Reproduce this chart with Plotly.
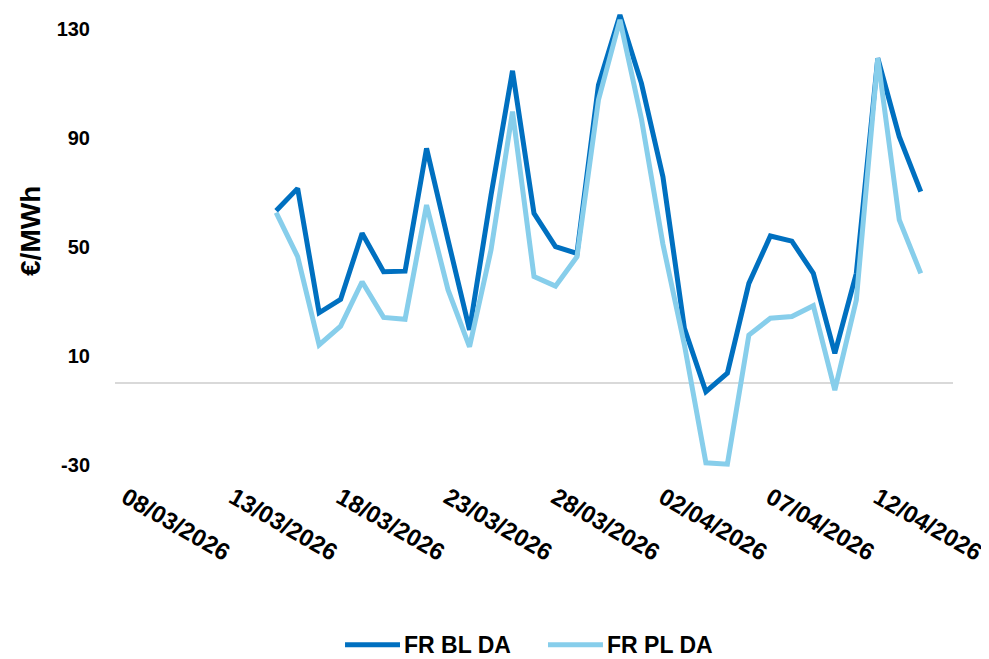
import pandas as pd
import plotly.graph_objects as go

dates = pd.date_range("2026-03-15", "2026-04-14", freq="D")
fr_bl_da = [63.3, 71.5, 25.8, 30.7, 55.0, 40.9, 41.1, 86.2, 52.5, 19.5,
            69.0, 114.7, 62.3, 50.1, 47.6, 109.5, 135.2, 110.1, 75.8, 20.1,
            -3.2, 3.6, 36.6, 54.0, 52.1, 40.3, 10.9, 40.3, 119.3, 90.5, 70.3]
fr_pl_da = [62.6, 46.4, 14.0, 20.9, 37.2, 24.1, 23.4, 65.4, 34.2, 13.3,
            48.9, 99.7, 39.1, 35.6, 46.4, 104.0, 133.4, 97.0, 51.0, 14.0,
            -29.3, -29.8, 17.6, 23.8, 24.4, 28.4, -2.6, 30.5, 119.3, 59.9, 40.3]
x_ticks = pd.date_range("2026-03-08", "2026-04-12", freq="5D")
y_ticks = [-30, 10, 50, 90, 130]
y_tick_text = ["-30", "10", "50", "90", "130"]
series_names = ["FR BL DA", "FR PL DA"]
series_colors = ["#0070C0", "#87CEEB"]

FONT = "Liberation Sans"

fig = go.Figure()
for name, vals, col in zip(series_names, [fr_bl_da, fr_pl_da], series_colors):
    fig.add_trace(go.Scatter(x=dates, y=vals, mode="lines", name=name,
                             line=dict(color=col, width=5), showlegend=False))

# legend drawn below the plot (swatch + label per series)
legend_shapes = []
legend_annots = []
leg_y = -0.358
swatch_x = [(0.2745, 0.3401), (0.5167, 0.5823)]
for (x0, x1), name, col in zip(swatch_x, series_names, series_colors):
    legend_shapes.append(dict(type="line", xref="paper", yref="paper",
                              x0=x0, x1=x1, y0=leg_y, y1=leg_y,
                              line=dict(color=col, width=5)))
    legend_annots.append(dict(text=name, xref="paper", yref="paper", x=x1 + 0.004,
                              y=leg_y, xanchor="left", yanchor="middle", showarrow=False,
                              borderpad=0,
                              font=dict(family=FONT, size=23, weight="bold", color="black")))

# page has an 8px body margin: figure occupies 8..989 x 8..659
fig.update_layout(
    width=981, height=651,
    margin=dict(l=107, r=36, t=4, b=181, autoexpand=False),
    paper_bgcolor="white", plot_bgcolor="white",
    font=dict(family=FONT, color="black", size=20, weight="bold"),
    showlegend=False,
    shapes=legend_shapes,
    annotations=[dict(text="€/MWh", xref="paper", yref="paper", x=-0.1015, y=0.53,
                      xanchor="center", yanchor="middle", textangle=-90, showarrow=False,
                      font=dict(family=FONT, size=28, weight="bold"))] + legend_annots,
)
fig.update_xaxes(
    type="date", range=["2026-03-07 12:00", "2026-04-15 12:00"],
    tickmode="array", tickvals=x_ticks, tickformat="%d/%m/%Y", tickangle=30,
    showgrid=False, zeroline=False, showline=False, ticks="",
    ticklabeloverflow="allow",
    tickfont=dict(family=FONT, size=24, weight="bold"),
)
fig.update_yaxes(
    range=[-34.9, 136.3], tickmode="array", tickvals=y_ticks, ticktext=y_tick_text,
    showgrid=False, zeroline=True, zerolinecolor="#D9D9D9", zerolinewidth=2,
    showline=False, ticks="", ticklabelstandoff=24,
    tickfont=dict(family=FONT, size=20, weight="bold"),
)

fig.write_html("out.html")
